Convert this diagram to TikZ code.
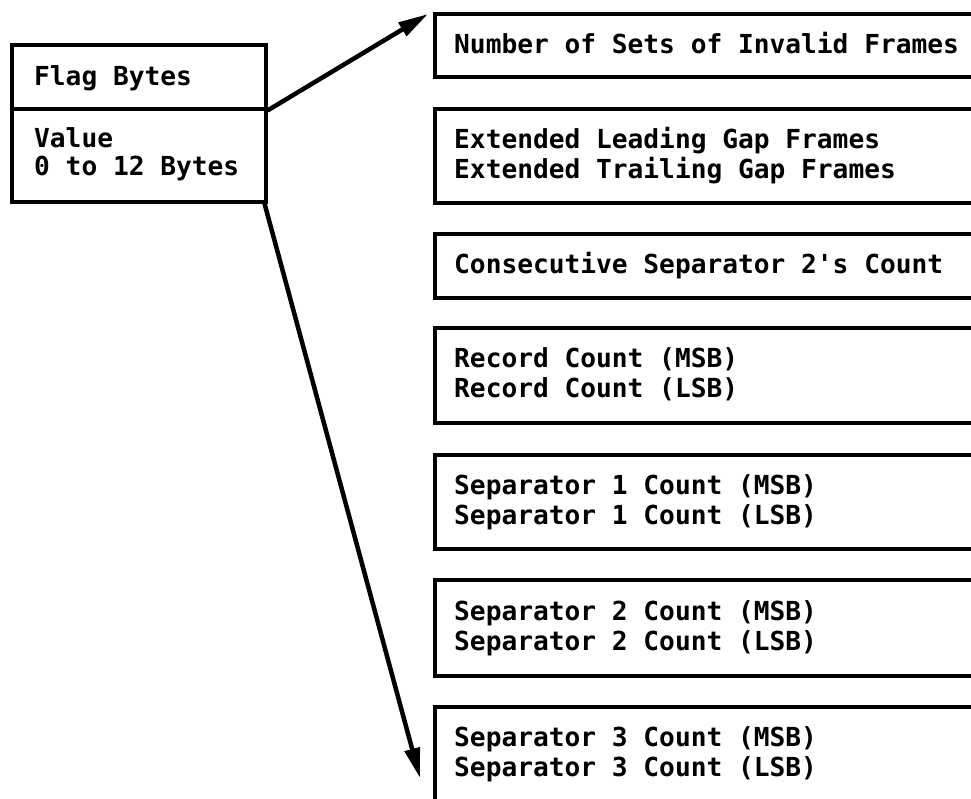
\documentclass[tikz,border=0pt]{standalone}
\usepackage{fontspec}
\setmonofont{DejaVu Sans Mono}
\usetikzlibrary{arrows.meta}
\tikzset{
  box/.style={draw=black, line width=3.5pt, inner sep=0pt, anchor=north west, minimum width=600pt},
  lbox/.style={draw=black, line width=3.5pt, inner sep=0pt, anchor=north west, minimum width=254pt},
  txt/.style={inner sep=0pt, anchor=base west, font=\ttfamily\bfseries\fontsize{26.2}{30}\selectfont},
  arr/.style={line width=4.5pt, -{Triangle[length=30pt,width=15pt]}}
}
\begin{document}
\begin{tikzpicture}[x=1pt,y=-1pt]
\clip (0,0) rectangle (971,798);
\fill[white] (0,0) rectangle (971,798);
% left box
\node[lbox, minimum height=64pt] (flag) at (10,43) {};
\node[lbox, minimum height=93pt] (val) at (10,107) {};
\node[txt] (tflag) at (34,85) {Flag Bytes};
\node[txt] (tval1) at (34,147) {Value};
\node[txt] (tval2) at (34,175) {0 to 12 Bytes};
% right boxes
\node[box, minimum height=63pt] (b1) at (433,12) {};
\node[txt] (t1) at (454,53) {Number of Sets of Invalid Frames};
\node[box, minimum height=94pt] (b2) at (433,107) {};
\node[txt] (t2a) at (454,148) {Extended Leading Gap Frames};
\node[txt] (t2b) at (454,178) {Extended Trailing Gap Frames};
\node[box, minimum height=64pt] (b3) at (433,232) {};
\node[txt] (t3) at (454,273.5) {Consecutive Separator 2's Count};
\node[box, minimum height=95pt] (b4) at (433,326) {};
\node[txt] (t4a) at (454,367) {Record Count (MSB)};
\node[txt] (t4b) at (454,397) {Record Count (LSB)};
\node[box, minimum height=94pt] (b5) at (433,453) {};
\node[txt] (t5a) at (454,494) {Separator 1 Count (MSB)};
\node[txt] (t5b) at (454,524) {Separator 1 Count (LSB)};
\node[box, minimum height=96pt] (b6) at (433,578) {};
\node[txt] (t6a) at (454,620) {Separator 2 Count (MSB)};
\node[txt] (t6b) at (454,650) {Separator 2 Count (LSB)};
\node[box, minimum height=95pt] (b7) at (433,705) {};
\node[txt] (t7a) at (454,746) {Separator 3 Count (MSB)};
\node[txt] (t7b) at (454,776) {Separator 3 Count (LSB)};
% arrows
\coordinate (tip1) at (428,14);
\coordinate (tip2) at (420,778);
\draw[arr] (flag.south east) -- (tip1);
\draw[arr] ([xshift=-3pt]val.south east) -- (tip2);
\end{tikzpicture}
\end{document}
